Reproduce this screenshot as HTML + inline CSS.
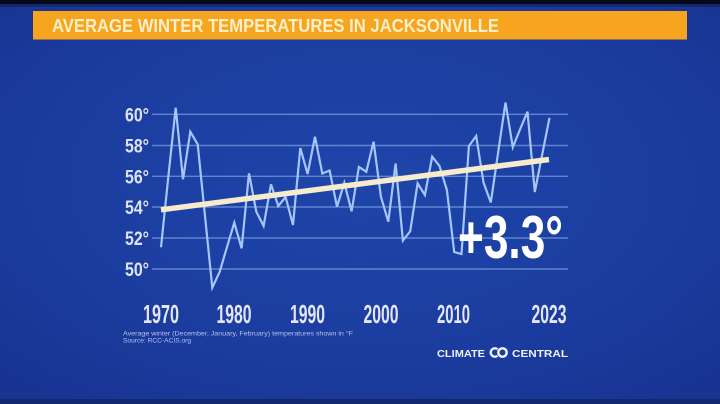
<!DOCTYPE html>
<html><head><meta charset="utf-8">
<style>
html,body{margin:0;padding:0;width:720px;height:404px;overflow:hidden;background:#1b3a9c;}
svg{display:block;}
</style></head>
<body>
<svg width="720" height="404" viewBox="0 0 720 404" xmlns="http://www.w3.org/2000/svg">
<defs>
<radialGradient id="bg" cx="0.5" cy="0.45" r="0.7">
<stop offset="0" stop-color="#1e45aa"/>
<stop offset="0.6" stop-color="#1b3d9f"/>
<stop offset="1" stop-color="#183392"/>
</radialGradient>
<pattern id="hatch" width="6" height="6" patternUnits="userSpaceOnUse" patternTransform="rotate(45)">
<line x1="0" y1="0" x2="0" y2="6" stroke="#2a4cb0" stroke-width="1" opacity="0.35"/>
</pattern>
</defs>
<rect x="0" y="0" width="720" height="404" fill="url(#bg)"/>
<polygon points="90,300 260,300 330,404 160,404" fill="url(#hatch)" opacity="0.6"/>
<rect x="0" y="0" width="720" height="4" fill="#06091a"/>
<rect x="0" y="4" width="720" height="3" fill="#14235e" opacity="0.7"/>
<rect x="0" y="399" width="720" height="5" fill="#13296e"/>

<!-- title bar -->
<rect x="33" y="11" width="654" height="28.5" fill="#f7a51e"/>
<text x="52" y="31.8" font-family="Liberation Sans Narrow, Liberation Sans, sans-serif" font-weight="bold" font-size="18" fill="#fcefc9" textLength="447" lengthAdjust="spacingAndGlyphs">AVERAGE WINTER TEMPERATURES IN JACKSONVILLE</text>

<!-- gridlines -->
<g stroke="#6f8fd8" stroke-width="1.4" opacity="0.85">
<line x1="152" y1="114.3" x2="568" y2="114.3"/>
<line x1="152" y1="145.5" x2="568" y2="145.5"/>
<line x1="152" y1="176.3" x2="568" y2="176.3"/>
<line x1="152" y1="207" x2="568" y2="207"/>
<line x1="152" y1="238" x2="568" y2="238"/>
<line x1="152" y1="269" x2="568" y2="269"/>
</g>

<!-- y labels -->
<g font-family="Liberation Sans Narrow, Liberation Sans, sans-serif" font-weight="bold" font-size="19" fill="#dfe2f4">
<text x="125" y="121.5" textLength="24" lengthAdjust="spacingAndGlyphs">60°</text>
<text x="125" y="152.7" textLength="24" lengthAdjust="spacingAndGlyphs">58°</text>
<text x="125" y="183.5" textLength="24" lengthAdjust="spacingAndGlyphs">56°</text>
<text x="125" y="214.2" textLength="24" lengthAdjust="spacingAndGlyphs">54°</text>
<text x="125" y="245.2" textLength="24" lengthAdjust="spacingAndGlyphs">52°</text>
<text x="125" y="276.2" textLength="24" lengthAdjust="spacingAndGlyphs">50°</text>
</g>

<!-- data line -->
<polyline fill="none" stroke="#a6c6fa" stroke-width="2.2" stroke-linejoin="miter" points="
161,247.3 168.3,177 175.7,107.7 183,179.3 190.3,131.7 197.7,144.3 205,216 212.3,287.7 219.7,271.7 227,247
234.3,222.7 241.6,248.3 249,173.3 256.3,211.7 263.6,226 271,184.3 278.3,206 285.6,197 293,225 300.3,148
307.6,174 315,136.7 322.3,173.5 329.6,170.5 337,206.7 344.3,182.8 351.6,211.3 358.9,167 366.3,171.7 373.6,141.7
380.9,196.7 388.3,221.7 395.6,163.5 402.9,240.5 410.2,231.3 417.6,183.3 424.9,195 432.2,156.7 439.5,166 446.9,190
454.2,252 461.5,254 468.9,146 476.2,136 483.5,182.5 490.8,202.5 498.2,152 505.5,102.5 512.8,147.2 520.2,129
527.5,111.7 534.8,192 542.1,155 549.5,117.8"/>

<!-- trend line -->
<line x1="161" y1="209.8" x2="549" y2="159.5" stroke="#f6eccb" stroke-width="5.5" stroke-linecap="butt"/>

<!-- +3.3 -->
<text x="458" y="258" font-family="Liberation Sans Narrow, Liberation Sans, sans-serif" font-weight="bold" font-size="60" fill="#ffffff" textLength="105" lengthAdjust="spacingAndGlyphs">+3.3°</text>

<!-- x labels -->
<g font-family="Liberation Sans Narrow, Liberation Sans, sans-serif" font-weight="bold" font-size="26" fill="#e4e6f6" text-anchor="middle">
<text x="161" y="323" textLength="36" lengthAdjust="spacingAndGlyphs">1970</text>
<text x="234" y="323" textLength="35" lengthAdjust="spacingAndGlyphs">1980</text>
<text x="307.5" y="323" textLength="35" lengthAdjust="spacingAndGlyphs">1990</text>
<text x="381" y="323" textLength="35" lengthAdjust="spacingAndGlyphs">2000</text>
<text x="453.5" y="323" textLength="33" lengthAdjust="spacingAndGlyphs">2010</text>
<text x="549" y="323" textLength="35" lengthAdjust="spacingAndGlyphs">2023</text>
</g>

<!-- footnote -->
<g font-family="Liberation Sans Narrow, Liberation Sans, sans-serif" font-size="6.5" fill="#b4c2ea">
<text x="123" y="335.5" textLength="230" lengthAdjust="spacingAndGlyphs">Average winter (December, January, February) temperatures shown in °F</text>
<text x="123" y="342.7" textLength="68" lengthAdjust="spacingAndGlyphs">Source: RCC-ACIS.org</text>
</g>

<!-- Climate Central logo -->
<g font-family="Liberation Sans, sans-serif" font-weight="bold" font-size="10.5" fill="#eef0fa">
<text x="437" y="357" textLength="48" lengthAdjust="spacingAndGlyphs">CLIMATE</text>
<text x="512" y="357" textLength="56" lengthAdjust="spacingAndGlyphs">CENTRAL</text>
</g>
<g fill="none" stroke="#eef0fa" stroke-width="2.4">
<path d="M497.5,349.2 A4.2,4.2 0 1 0 497.5,355.8"/>
<circle cx="502.5" cy="352.5" r="4.2"/>
</g>
</svg>
</body></html>
